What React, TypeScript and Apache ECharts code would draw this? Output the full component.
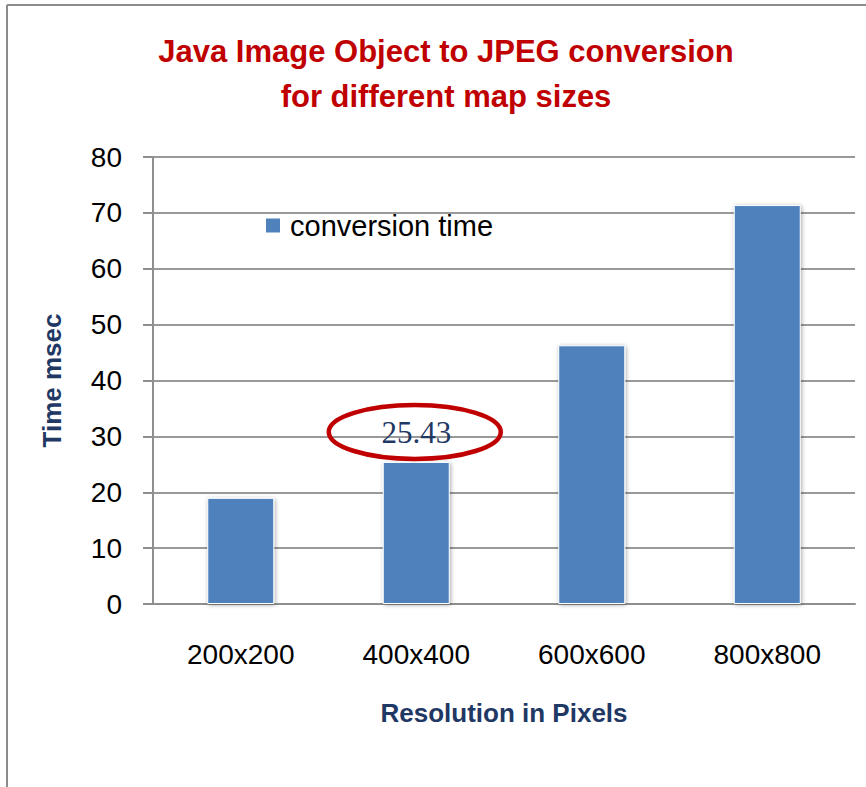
import React, { useEffect, useRef } from "react";
import * as echarts from "echarts";

const categories = ["200x200", "400x400", "600x600", "800x800"];
const conversionTime = [19.0, 25.43, 46.3, 71.4];
const seriesName = "conversion time";
const yTicks = { min: 0, max: 80, interval: 10 };
const highlightIndex = 1;

export default function App() {
  const ref = useRef<HTMLDivElement>(null);
  useEffect(() => {
    if (!ref.current) return;
    const chart = echarts.init(ref.current, undefined, { renderer: "svg" });
    const sans = "'Liberation Sans', Arial, sans-serif";
    const navy = "#1F3864";
    chart.setOption({
      animation: false,
      backgroundColor: "#ffffff",
      title: {
        text: "Java Image Object to JPEG conversion\nfor different map sizes",
        left: 441,
        top: 24,
        textAlign: "center",
        textStyle: {
          fontFamily: sans,
          fontWeight: "bold",
          fontSize: 31,
          lineHeight: 45,
          color: "#C00000",
        },
      },
      legend: {
        left: 259,
        top: 206,
        itemWidth: 16,
        itemHeight: 16,
        icon: "rect",
        textStyle: { fontFamily: sans, fontSize: 29, color: "#000", padding: [0, 0, 0, 4] },
        data: [seriesName],
      },
      grid: { left: 153, right: 11, top: 157, bottom: 183, containLabel: false },
      xAxis: {
        type: "category",
        data: categories,
        name: "Resolution in Pixels",
        nameLocation: "middle",
        nameGap: 96,
        nameTextStyle: { fontFamily: sans, fontWeight: "bold", fontSize: 26, color: navy },
        axisLine: { lineStyle: { color: "#8f8f8f", width: 2 } },
        axisTick: { show: false },
        axisLabel: { fontFamily: sans, fontSize: 28, color: "#000", margin: 36 },
      },
      yAxis: {
        type: "value",
        min: yTicks.min,
        max: yTicks.max,
        interval: yTicks.interval,
        name: "Time msec",
        nameLocation: "middle",
        nameGap: 88,
        nameRotate: 90,
        nameTextStyle: { fontFamily: sans, fontWeight: "bold", fontSize: 26, color: navy },
        axisLine: { show: true, lineStyle: { color: "#8f8f8f", width: 2 } },
        axisTick: { show: true, length: 10, lineStyle: { color: "#8f8f8f", width: 2 } },
        axisLabel: { fontFamily: sans, fontSize: 28, color: "#000", margin: 31 },
        splitLine: { lineStyle: { color: "#999999", width: 2 } },
      },
      series: [
        {
          name: seriesName,
          type: "bar",
          barWidth: 67,
          data: conversionTime.map((v, i) =>
            i === highlightIndex
              ? {
                  value: v,
                  label: {
                    show: true,
                    position: "top",
                    distance: 14,
                    fontFamily: "'Liberation Serif', 'Times New Roman', serif",
                    fontSize: 31,
                    color: navy,
                    formatter: (p: any) => p.value.toFixed(2),
                  },
                }
              : v
          ),
          itemStyle: {
            color: "#4F81BD",
            borderColor: "#ffffff",
            borderWidth: 1,
            shadowColor: "rgba(0,0,0,0.35)",
            shadowBlur: 4,
            shadowOffsetX: 1,
            shadowOffsetY: 1,
          },
        },
      ],
    });
    const pt = chart.convertToPixel({ seriesIndex: 0 }, [highlightIndex, conversionTime[highlightIndex]]) as number[];
    chart.setOption({
      graphic: [
        {
          type: "line",
          shape: { x1: 7, y1: 5, x2: 866, y2: 5 },
          style: { stroke: "#8c8c8c", lineWidth: 2 },
        },
        {
          type: "line",
          shape: { x1: 7, y1: 5, x2: 7, y2: 787 },
          style: { stroke: "#8c8c8c", lineWidth: 2 },
        },
        {
          type: "ellipse",
          shape: { cx: pt[0] - 1.5, cy: pt[1] - 30, rx: 86, ry: 27 },
          style: { fill: "none", stroke: "#C00000", lineWidth: 4.5 },
          z: 100,
        },
      ],
    });
    return () => chart.dispose();
  }, []);
  return (
    <div
      ref={ref}
      style={{ position: "fixed", left: 0, top: 0, width: 866, height: 787 }}
    />
  );
}
